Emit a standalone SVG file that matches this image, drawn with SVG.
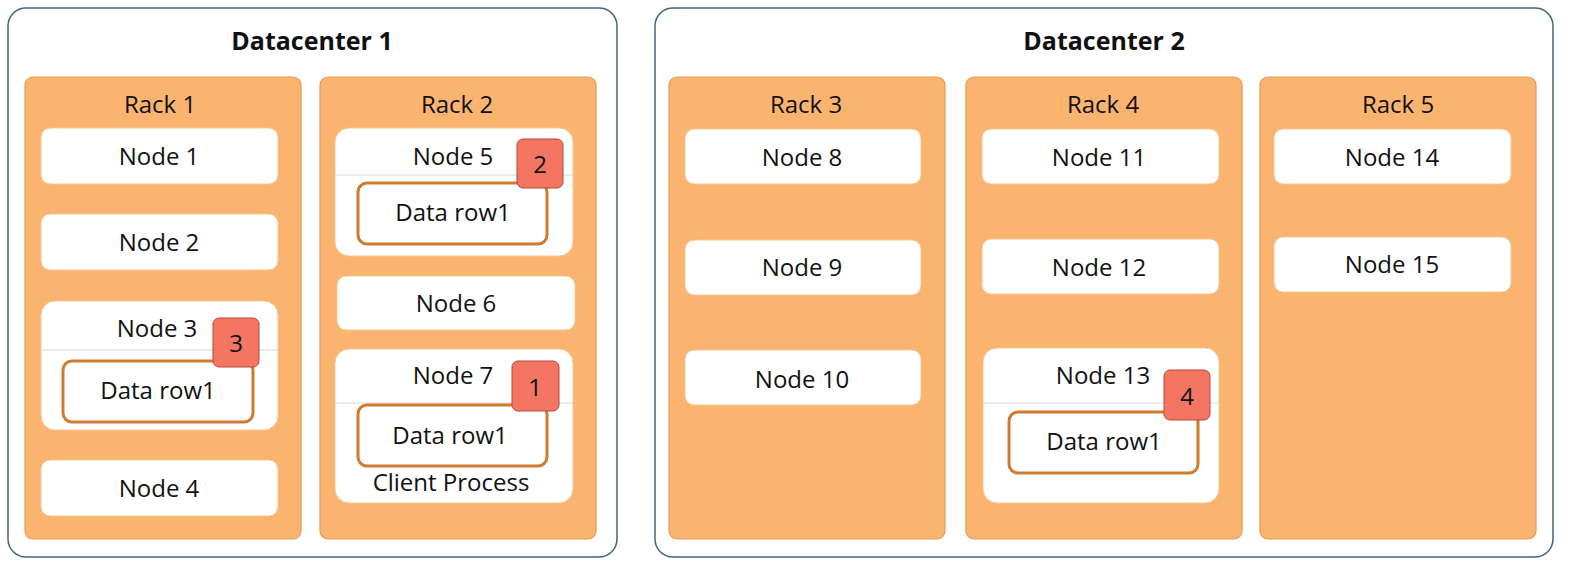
<svg xmlns="http://www.w3.org/2000/svg" width="1582" height="582" viewBox="0 0 1582 582">
<style>
.dc{fill:#fff;stroke:#3f6680;stroke-width:1.5}
.rack{fill:#fbb470;stroke:#e79a50;stroke-width:1.2}
.node{fill:#fff;stroke:#f3c796;stroke-width:1}
.sep{stroke:#d8d8d8;stroke-width:1.2}
.data{fill:#fff;stroke:#d07a30;stroke-width:3}
.badge{fill:#f57563;stroke:#b9473a;stroke-width:1}
text{font-family:"Open Sans","Liberation Sans",Arial,sans-serif;fill:#111;text-anchor:middle}
.t{font-size:24px}
.h{font-size:25px;font-weight:bold}
</style>
<rect width="1582" height="582" fill="#fff"/>
<g id="dc1"><rect class="dc" x="8" y="8" width="609" height="549" rx="18"/><text class="h" x="312" y="50">Datacenter 1</text></g>
<g id="dc2"><rect class="dc" x="655" y="8" width="898" height="549" rx="18"/><text class="h" x="1104" y="50">Datacenter 2</text></g>
<g id="rack1"><rect class="rack" x="25" y="77" width="276" height="462" rx="8"/><text class="t" x="160" y="113">Rack 1</text></g>
<g id="rack2"><rect class="rack" x="320" y="77" width="276" height="462" rx="8"/><text class="t" x="457" y="113">Rack 2</text></g>
<g id="rack3"><rect class="rack" x="669" y="77" width="276" height="462" rx="8"/><text class="t" x="806" y="113">Rack 3</text></g>
<g id="rack4"><rect class="rack" x="966" y="77" width="276" height="462" rx="8"/><text class="t" x="1103" y="113">Rack 4</text></g>
<g id="rack5"><rect class="rack" x="1260" y="77" width="276" height="462" rx="8"/><text class="t" x="1398" y="113">Rack 5</text></g>
<g id="node1"><rect class="node" x="41" y="128" width="237" height="56" rx="9"/><text class="t" x="159" y="165">Node 1</text></g>
<g id="node2"><rect class="node" x="41" y="214" width="237" height="56" rx="9"/><text class="t" x="159" y="251">Node 2</text></g>
<g id="node3"><rect class="node" x="41" y="301" width="237" height="129" rx="14"/><line class="sep" x1="41" y1="350" x2="278" y2="350"/><text class="t" x="157" y="337">Node 3</text>
<rect class="data" x="63" y="361" width="190" height="61" rx="9"/><text class="t" x="158" y="399">Data row1</text>
<rect class="badge" x="213" y="318" width="46" height="49" rx="6"/><text class="t" x="236" y="352">3</text></g>
<g id="node4"><rect class="node" x="41" y="460" width="237" height="56" rx="9"/><text class="t" x="159" y="497">Node 4</text></g>
<g id="node5"><rect class="node" x="335" y="128" width="238" height="128" rx="14"/><line class="sep" x1="335" y1="175" x2="573" y2="175"/><text class="t" x="453" y="165">Node 5</text>
<rect class="data" x="358" y="183" width="189" height="61" rx="9"/><text class="t" x="453" y="221">Data row1</text>
<rect class="badge" x="517" y="139" width="46" height="49" rx="6"/><text class="t" x="540" y="173">2</text></g>
<g id="node6"><rect class="node" x="337" y="276" width="238" height="54" rx="9"/><text class="t" x="456" y="312">Node 6</text></g>
<g id="node7"><rect class="node" x="335" y="349" width="238" height="154" rx="14"/><line class="sep" x1="335" y1="403" x2="573" y2="403"/><text class="t" x="453" y="384">Node 7</text>
<rect class="data" x="358" y="405" width="189" height="61" rx="9"/><text class="t" x="450" y="444">Data row1</text>
<rect class="badge" x="512" y="361" width="47" height="50" rx="6"/><text class="t" x="535" y="396">1</text>
<text class="t" x="451" y="491">Client Process</text></g>
<g id="node8"><rect class="node" x="685" y="129" width="236" height="55" rx="9"/><text class="t" x="802" y="166">Node 8</text></g>
<g id="node9"><rect class="node" x="685" y="240" width="236" height="55" rx="9"/><text class="t" x="802" y="276">Node 9</text></g>
<g id="node10"><rect class="node" x="685" y="350" width="236" height="55" rx="9"/><text class="t" x="802" y="388">Node 10</text></g>
<g id="node11"><rect class="node" x="982" y="129" width="237" height="55" rx="9"/><text class="t" x="1099" y="166">Node 11</text></g>
<g id="node12"><rect class="node" x="982" y="239" width="237" height="55" rx="9"/><text class="t" x="1099" y="276">Node 12</text></g>
<g id="node13"><rect class="node" x="983" y="348" width="236" height="155" rx="14"/><line class="sep" x1="983" y1="403" x2="1219" y2="403"/><text class="t" x="1103" y="384">Node 13</text>
<rect class="data" x="1009" y="412" width="189" height="61" rx="9"/><text class="t" x="1104" y="450">Data row1</text>
<rect class="badge" x="1164" y="370" width="46" height="50" rx="6"/><text class="t" x="1187" y="405">4</text></g>
<g id="node14"><rect class="node" x="1274" y="129" width="237" height="55" rx="9"/><text class="t" x="1392" y="166">Node 14</text></g>
<g id="node15"><rect class="node" x="1274" y="237" width="237" height="55" rx="9"/><text class="t" x="1392" y="273">Node 15</text></g>
<g id="connectors"/>
</svg>
